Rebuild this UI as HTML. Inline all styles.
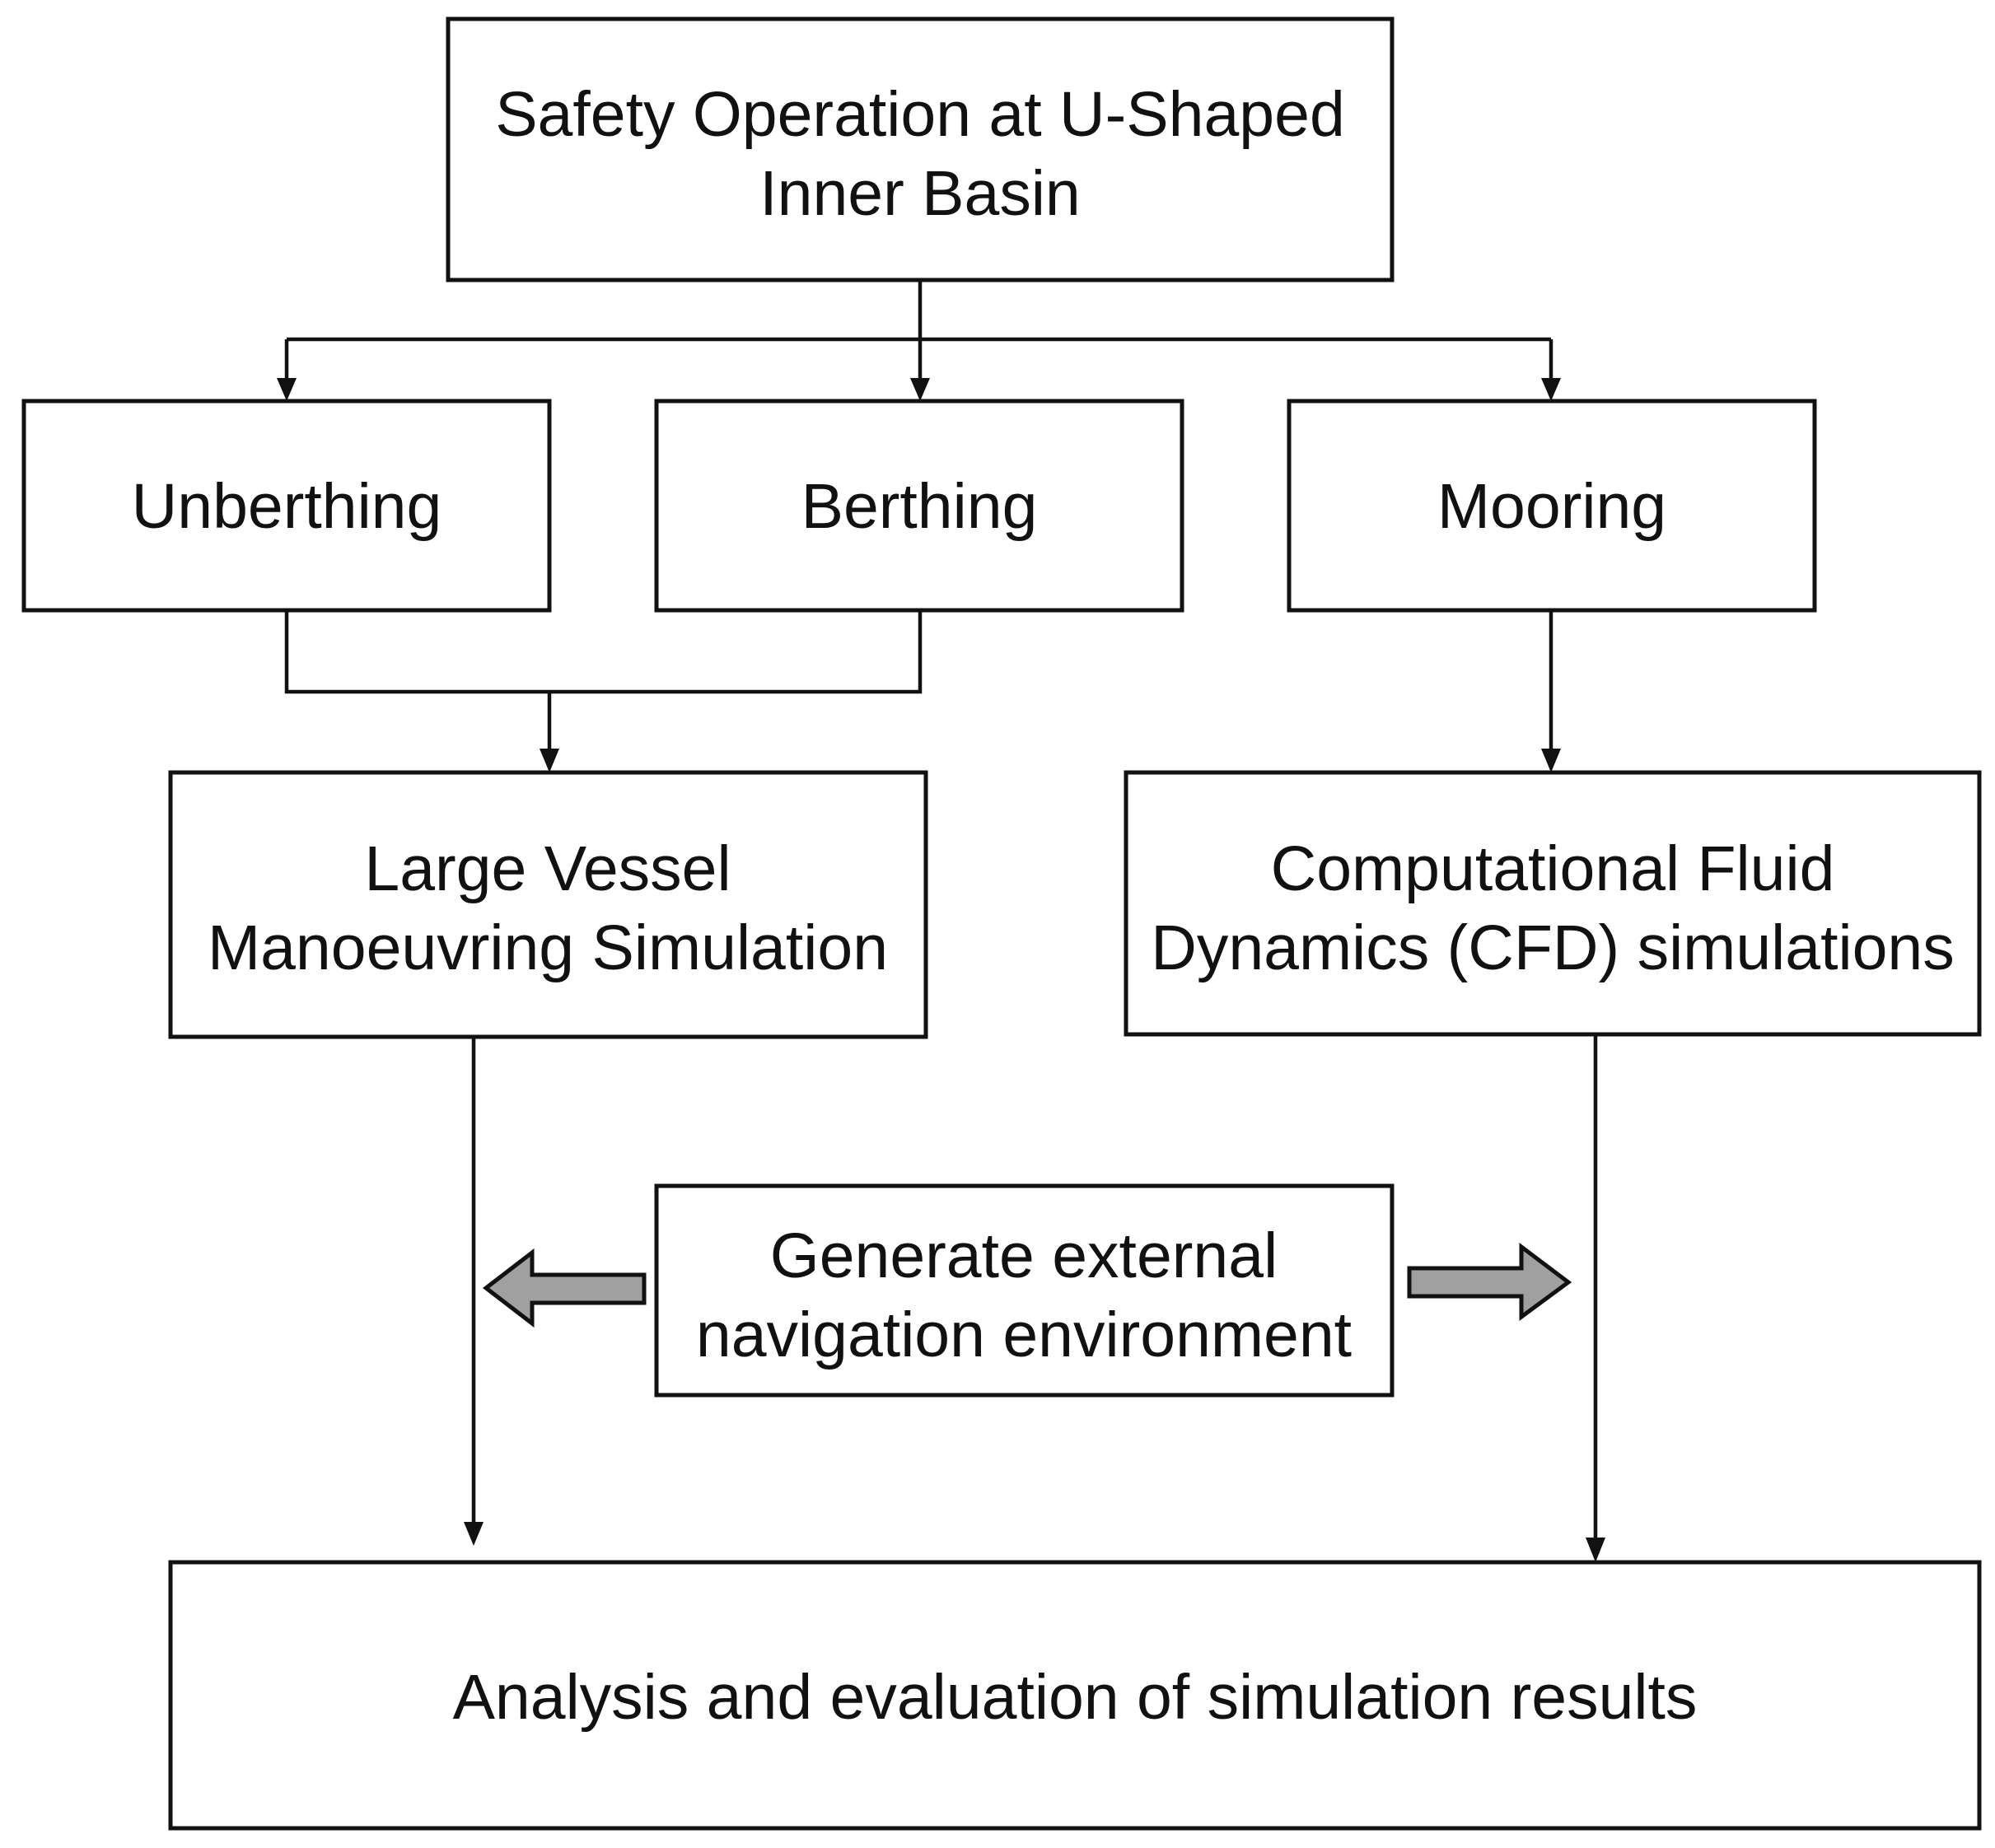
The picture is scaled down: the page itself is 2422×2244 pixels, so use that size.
<!DOCTYPE html>
<html><head><meta charset="utf-8"><style>
html,body{margin:0;padding:0;background:#fff;}
svg{display:block;}
text{font-family:"Liberation Sans",sans-serif;font-size:77px;fill:#111;text-anchor:middle;}
</style></head><body>
<svg width="2422" height="2244" viewBox="0 0 2422 2244" xmlns="http://www.w3.org/2000/svg">
<g fill="none" stroke="#111" stroke-width="5">
<rect x="544" y="23" width="1146" height="317"/>
<rect x="29" y="487" width="638" height="254"/>
<rect x="797" y="487" width="638" height="254"/>
<rect x="1565" y="487" width="638" height="254"/>
<rect x="207" y="938" width="917" height="321"/>
<rect x="1367" y="938" width="1036" height="318"/>
<rect x="797" y="1440" width="893" height="254"/>
<rect x="207" y="1897" width="2196" height="323"/>
</g>
<g fill="none" stroke="#111" stroke-width="4.5">
<path d="M1117 340 V412 M348 412 H1883 M348 412 V470 M1117 412 V470 M1883 412 V470"/>
<path d="M348 741 V840 H1117 V741 M667 840 V920"/>
<path d="M1883 741 V920"/>
<path d="M575 1259 V1860"/>
<path d="M1937 1256 V1878"/>
</g>
<g fill="#111">
<polygon points="336,459 360,459 348,487"/>
<polygon points="1105,459 1129,459 1117,487"/>
<polygon points="1871,459 1895,459 1883,487"/>
<polygon points="655,909 679,909 667,938"/>
<polygon points="1871,909 1895,909 1883,938"/>
<polygon points="563,1848 587,1848 575,1877"/>
<polygon points="1925,1867 1949,1867 1937,1897"/>
</g>
<g fill="#a0a0a0" stroke="#111" stroke-width="5" stroke-linejoin="miter">
<polygon points="782,1548 646,1548 646,1521 590,1564 646,1607 646,1582 782,1582"/>
<polygon points="1711,1540 1847,1540 1847,1514 1904,1557 1847,1599 1847,1574 1711,1574"/>
</g>
<text x="1117" y="165">Safety Operation at U-Shaped</text>
<text x="1117" y="261">Inner Basin</text>
<text x="348" y="641">Unberthing</text>
<text x="1116" y="641">Berthing</text>
<text x="1884" y="641">Mooring</text>
<text x="665" y="1081">Large Vessel</text>
<text x="665" y="1177">Manoeuvring Simulation</text>
<text x="1885" y="1081">Computational Fluid</text>
<text x="1885" y="1177">Dynamics (CFD) simulations</text>
<text x="1243" y="1551">Generate external</text>
<text x="1243" y="1647">navigation environment</text>
<text x="1305" y="2087">Analysis and evaluation of simulation results</text>
</svg>
</body></html>
